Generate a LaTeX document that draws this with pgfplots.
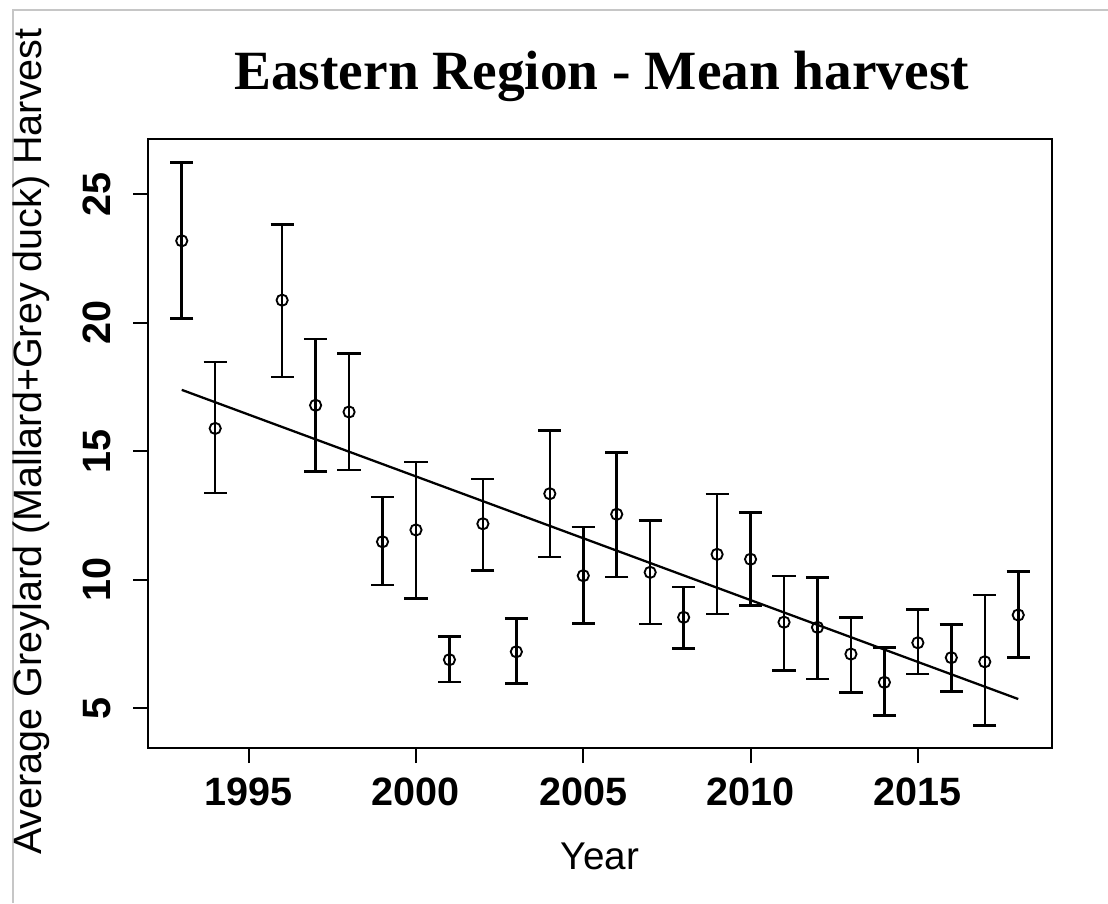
\documentclass[border=0pt]{standalone}
\usepackage{pgfplots}
\pgfplotsset{compat=1.18}
\usepackage{pgfplotstable}
\usepackage{fontspec}
\setmainfont{Liberation Sans}
\newfontfamily\titlefont{Liberation Serif}

% year, mean, lower and upper end of the interval
\pgfplotstableread{
x    y     lo    hi
1993 23.19 20.16 26.23
1994 15.89 13.37 18.47
1996 20.88 17.89 23.83
1997 16.79 14.21 19.37
1998 16.53 14.27 18.80
1999 11.48  9.80 13.22
2000 11.94  9.28 14.58
2001  6.89  6.02  7.79
2002 12.18 10.37 13.92
2003  7.20  5.97  8.49
2004 13.35 10.89 15.80
2005 10.16  8.29 12.05
2006 12.55 10.10 14.96
2007 10.29  8.28 12.30
2008  8.54  7.32  9.72
2009 10.99  8.67 13.33
2010 10.80  8.99 12.61
2011  8.35  6.46 10.15
2012  8.15  6.14 10.08
2013  7.11  5.62  8.53
2014  6.01  4.71  7.36
2015  7.55  6.33  8.85
2016  6.97  5.66  8.25
2017  6.81  4.32  9.41
2018  8.63  6.97 10.32
}\harvest

\begin{document}
\begin{tikzpicture}
\useasboundingbox (0,0) rectangle (22.16cm,18.06cm);
\draw[gray!45, line width=0.6pt] (0.26cm,0) -- (0.26cm,17.86cm) -- (22.16cm,17.86cm);
\begin{axis}[
  at={(2.966cm,3.10cm)}, anchor=south west,
  scale only axis,
  width=18.068cm, height=12.174cm,
  xmin=1992, xmax=2019,
  ymin=3.455, ymax=27.14,
  axis line style={line width=1.1pt},
  tick style={line width=1.1pt, black},
  tick align=outside,
  major tick length=0.3cm,
  xtick={1995,2000,2005,2010,2015},
  xticklabels={1995,2000,2005,2010,2015},
  ytick={5,10,15,20,25},
  yticklabels={5,10,15,20,25},
  xtick pos=bottom, ytick pos=left,
  ticklabel style={font=\fontsize{22.5}{26}\selectfont\bfseries},
  xticklabel style={anchor=base, yshift=-0.84cm},
  yticklabel style={xshift=-0.46cm, rotate=90, anchor=base},
  xlabel={Year},
  xlabel style={font=\fontsize{22}{26}\selectfont, at={(axis description cs:0.5,-0.2004)}, anchor=base},
  ylabel={Average Greylard (Mallard+Grey duck) Harvest},
  ylabel style={font=\fontsize{22.5}{26}\selectfont, at={(axis description cs:-0.1177,0.5035)}, anchor=base},
  title={Eastern Region - Mean harvest},
  title style={font=\titlefont\fontsize{31.5}{35}\selectfont\bfseries, at={(axis description cs:0.502,1.064)}, anchor=base},
]
\addplot[black, only marks, mark=o, mark size=3.2pt, mark options={line width=1.05pt},
  error bars/.cd, y dir=both, y explicit,
  error bar style={line width=1.45pt, black},
  error mark options={rotate=90, mark size=6.6pt, line width=1.45pt, black}]
  table[x=x, y=y, y error plus expr=\thisrow{hi}-\thisrow{y}, y error minus expr=\thisrow{y}-\thisrow{lo}] {\harvest};
\addplot[black, line width=1.3pt, mark=none] coordinates {(1993,17.39) (2018,5.36)};
\end{axis}
\end{tikzpicture}
\end{document}
